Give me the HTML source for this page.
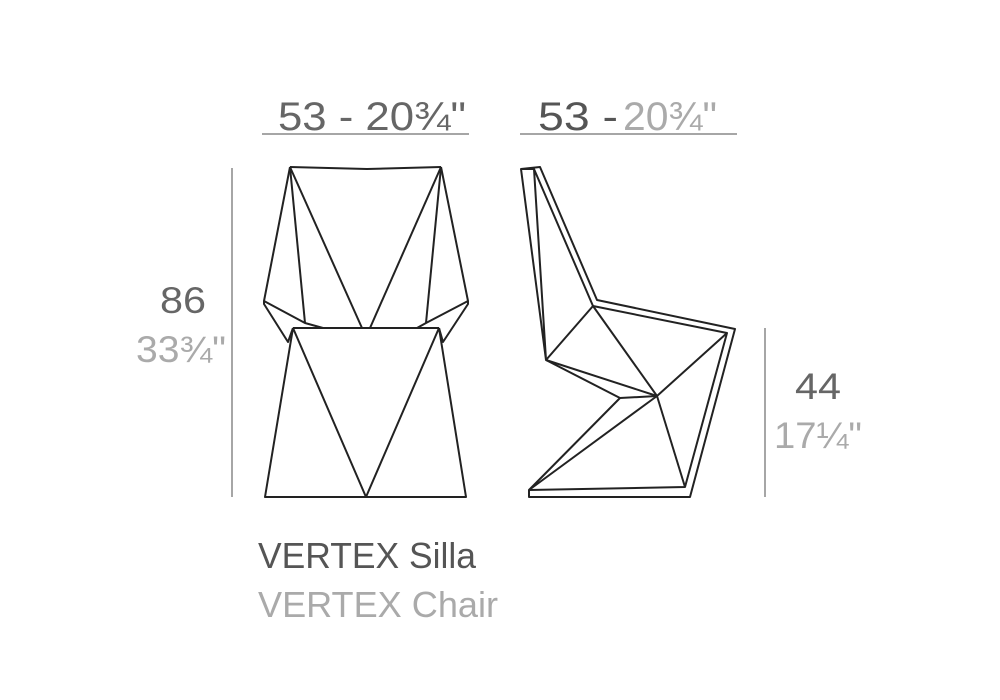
<!DOCTYPE html>
<html><head><style>body{margin:0;background:#fff}svg{display:block}</style></head><body>
<svg width="1000" height="700" viewBox="0 0 1000 700" xmlns="http://www.w3.org/2000/svg" font-family="Liberation Sans, sans-serif">
<g fill="#666" font-size="40">
<text x="278" y="130" textLength="188" lengthAdjust="spacingAndGlyphs">53 - 20¾"</text>
<text x="538" y="130" textLength="80" lengthAdjust="spacingAndGlyphs" fill="#555">53 - </text>
<text x="623" y="130" textLength="94" lengthAdjust="spacingAndGlyphs" fill="#aaa">20¾"</text>
</g>
<g stroke="#888" stroke-width="1.5">
<line x1="262" y1="134" x2="469" y2="134"/>
<line x1="520" y1="134" x2="737" y2="134"/>
<line x1="232" y1="168" x2="232" y2="497"/>
<line x1="765" y1="328" x2="765" y2="497"/>
</g>
<g font-size="37">
<text x="160" y="313" fill="#666" textLength="46" lengthAdjust="spacingAndGlyphs">86</text>
<text x="136" y="362" fill="#aaa" textLength="90" lengthAdjust="spacingAndGlyphs">33¾"</text>
<text x="795" y="399" fill="#666" textLength="46" lengthAdjust="spacingAndGlyphs">44</text>
<text x="774" y="448" fill="#aaa" textLength="88" lengthAdjust="spacingAndGlyphs">17¼"</text>
</g>
<g font-size="36">
<text x="258" y="568" fill="#555" textLength="218" lengthAdjust="spacingAndGlyphs">VERTEX Silla</text>
<text x="258" y="617" fill="#aaa" textLength="240" lengthAdjust="spacingAndGlyphs">VERTEX Chair</text>
</g>
<g fill="none" stroke="#222" stroke-width="2" stroke-linejoin="round">
<polyline points="290,167 367,169 441,167"/>
<polyline points="290,167 264,301 305,323 323,328 417,328 426,323 468,301 441,167"/>
<line x1="290" y1="167" x2="305" y2="323"/>
<line x1="290" y1="167" x2="362" y2="328"/>
<line x1="441" y1="167" x2="426" y2="323"/>
<line x1="441" y1="167" x2="370" y2="328"/>
<polyline points="264,301 264,304 288,342 293,328"/>
<polyline points="468,301 468,304 443,342 439,328"/>
<line x1="293" y1="328" x2="439" y2="328"/>
<polyline points="293,328 265,497 466,497 439,328"/>
<polyline points="293,328 366,497 439,328"/>
<polyline points="521,169 540,167 597,300 735,329 690,497 529,497 529,490 685,487 727,333 593,306 534,169 521,169 546,360 534,169"/>
<line x1="593" y1="306" x2="546" y2="360"/>
<line x1="593" y1="306" x2="657" y2="396"/>
<line x1="546" y1="360" x2="657" y2="396"/>
<line x1="546" y1="360" x2="620" y2="398"/>
<line x1="620" y1="398" x2="657" y2="396"/>
<line x1="657" y1="396" x2="727" y2="333"/>
<line x1="657" y1="396" x2="685" y2="487"/>
<line x1="620" y1="398" x2="529" y2="490"/>
<line x1="657" y1="396" x2="529" y2="490"/>
</g>
</svg>
</body></html>
